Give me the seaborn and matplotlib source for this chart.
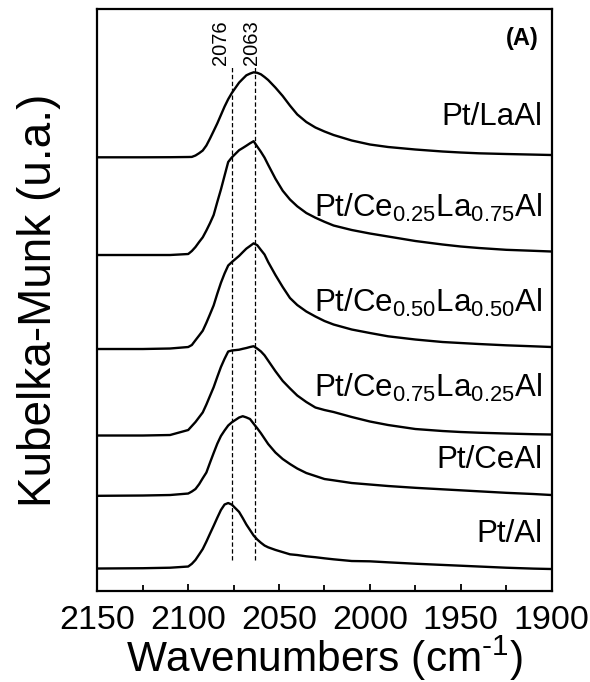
import numpy as np
import pandas as pd
import matplotlib
matplotlib.use("Agg")
import matplotlib.pyplot as plt
from matplotlib.ticker import MultipleLocator
import seaborn as sns

# ---------------- data ----------------
wavenumbers = [2150, 2125, 2110, 2100, 2098, 2096, 2094, 2092, 2090, 2088, 2086, 2084,
               2082, 2080, 2078, 2076, 2072, 2070, 2068, 2066, 2064, 2062, 2060, 2058,
               2056, 2052, 2048, 2044, 2040, 2035, 2030, 2025, 2020, 2010, 2000, 1990,
               1975, 1960, 1950, 1940, 1925, 1910, 1900]

pt_laal = [4.337, 4.337, 4.338, 4.340, 4.341, 4.355, 4.378, 4.405, 4.455, 4.525, 4.600, 4.676,
           4.760, 4.844, 4.918, 4.980, 5.084, 5.121, 5.157, 5.174, 5.187, 5.182, 5.167, 5.140,
           5.110, 5.034, 4.950, 4.854, 4.766, 4.690, 4.635, 4.595, 4.560, 4.505, 4.465, 4.440,
           4.415, 4.395, 4.385, 4.377, 4.370, 4.364, 4.360]
pt_ce25la75 = [3.360, 3.360, 3.360, 3.370, 3.400, 3.440, 3.490, 3.537, 3.605, 3.679, 3.760, 3.890,
               4.015, 4.153, 4.290, 4.336, 4.408, 4.430, 4.453, 4.477, 4.498, 4.444, 4.392, 4.334,
               4.262, 4.123, 4.003, 3.915, 3.847, 3.780, 3.733, 3.692, 3.655, 3.610, 3.575, 3.545,
               3.500, 3.465, 3.445, 3.430, 3.412, 3.402, 3.395]
pt_ce50la50 = [2.420, 2.420, 2.425, 2.440, 2.460, 2.508, 2.555, 2.603, 2.682, 2.768, 2.856, 2.973,
               3.082, 3.175, 3.255, 3.289, 3.351, 3.388, 3.424, 3.450, 3.477, 3.458, 3.411, 3.365,
               3.290, 3.160, 3.040, 2.930, 2.860, 2.795, 2.745, 2.700, 2.665, 2.615, 2.580, 2.547,
               2.515, 2.490, 2.480, 2.470, 2.457, 2.447, 2.440]
pt_ce75la25 = [1.555, 1.555, 1.560, 1.610, 1.650, 1.690, 1.738, 1.786, 1.865, 1.952, 2.038, 2.141,
               2.240, 2.322, 2.395, 2.405, 2.413, 2.422, 2.430, 2.440, 2.448, 2.424, 2.396, 2.357,
               2.304, 2.198, 2.101, 2.026, 1.955, 1.890, 1.835, 1.810, 1.790, 1.740, 1.695, 1.660,
               1.620, 1.600, 1.590, 1.583, 1.575, 1.568, 1.565]
pt_ceal = [0.952, 0.955, 0.960, 0.975, 0.995, 1.020, 1.068, 1.128, 1.185, 1.284, 1.380, 1.473,
           1.550, 1.605, 1.655, 1.687, 1.735, 1.748, 1.736, 1.720, 1.673, 1.627, 1.578, 1.524,
           1.470, 1.385, 1.320, 1.270, 1.225, 1.180, 1.150, 1.120, 1.107, 1.080, 1.065, 1.050,
           1.032, 1.017, 1.007, 0.997, 0.982, 0.970, 0.960]
pt_al = [0.225, 0.228, 0.233, 0.245, 0.272, 0.311, 0.365, 0.420, 0.494, 0.574, 0.652, 0.733,
         0.810, 0.865, 0.880, 0.864, 0.791, 0.730, 0.665, 0.610, 0.555, 0.515, 0.483, 0.455,
         0.437, 0.411, 0.389, 0.367, 0.360, 0.347, 0.338, 0.327, 0.317, 0.300, 0.297, 0.287,
         0.273, 0.261, 0.253, 0.245, 0.233, 0.224, 0.220]

sample_labels = [r"Pt/LaAl",
                 r"Pt/Ce$_{\mathregular{0.25}}$La$_{\mathregular{0.75}}$Al",
                 r"Pt/Ce$_{\mathregular{0.50}}$La$_{\mathregular{0.50}}$Al",
                 r"Pt/Ce$_{\mathregular{0.75}}$La$_{\mathregular{0.25}}$Al",
                 r"Pt/CeAl",
                 r"Pt/Al"]
label_y = [4.66, 3.74, 2.79, 1.94, 1.23, 0.49]

peak_positions = [2076, 2063]
peak_labels = ["2076", "2063"]

x_ticks = [2150, 2100, 2050, 2000, 1950, 1900]

series = [pt_laal, pt_ce25la75, pt_ce50la50, pt_ce75la25, pt_ceal, pt_al]

# ---------------- style ----------------
sns.set_style("ticks")
plt.rcParams["font.family"] = ["Liberation Sans", "DejaVu Sans"]
plt.rcParams["mathtext.fontset"] = "custom"
plt.rcParams["mathtext.rm"] = "Liberation Sans"
plt.rcParams["mathtext.it"] = "Liberation Sans:italic"
plt.rcParams["mathtext.bf"] = "Liberation Sans:bold"
for k in ["text.color", "axes.labelcolor", "xtick.color", "ytick.color", "axes.edgecolor"]:
    plt.rcParams[k] = "black"

fig = plt.figure(figsize=(5.90, 6.82), dpi=100)
ax = fig.add_axes([0.165, 0.1334, 0.770, 0.8534])

for vals in series:
    sns.lineplot(x=wavenumbers, y=vals, ax=ax, color="black", lw=1.7, sort=False)

for wn in peak_positions:
    ax.plot([wn, wn], [0.31, 5.24], color="black", lw=0.9, ls=(0, (3.5, 2)))

ax.text(2082.5, 5.26, peak_labels[0], rotation=90, ha="center", va="bottom", fontsize=14.5)
ax.text(2065.0, 5.26, peak_labels[1], rotation=90, ha="center", va="bottom", fontsize=14.5)

for lab, yy in zip(sample_labels, label_y):
    ax.text(1905, yy, lab, ha="right", va="baseline", fontsize=22.5)

ax.text(1907, 5.46, "(A)", ha="right", va="baseline", fontsize=17, fontweight="bold")

ax.set_xlim(2150, 1900)
ax.set_ylim(0, 5.82)
ax.set_xticks(x_ticks)
ax.set_xticklabels([str(t) for t in x_ticks])
ax.xaxis.set_minor_locator(MultipleLocator(25))
ax.set_yticks([])
ax.tick_params(axis="x", which="major", direction="in", length=5, width=1.3,
               labelsize=24.5, pad=10)
ax.tick_params(axis="x", which="minor", direction="in", length=4, width=1.3)
for s in ax.spines.values():
    s.set_linewidth(1.6)
    s.set_color("black")

ax.set_xlabel(r"Wavenumbers (cm$^{\text{-1}}$)", fontsize=30.5, labelpad=-2)
ax.set_ylabel("Kubelka-Munk (u.a.)", fontsize=33, labelpad=26)

fig.savefig("out.png", dpi=100)
